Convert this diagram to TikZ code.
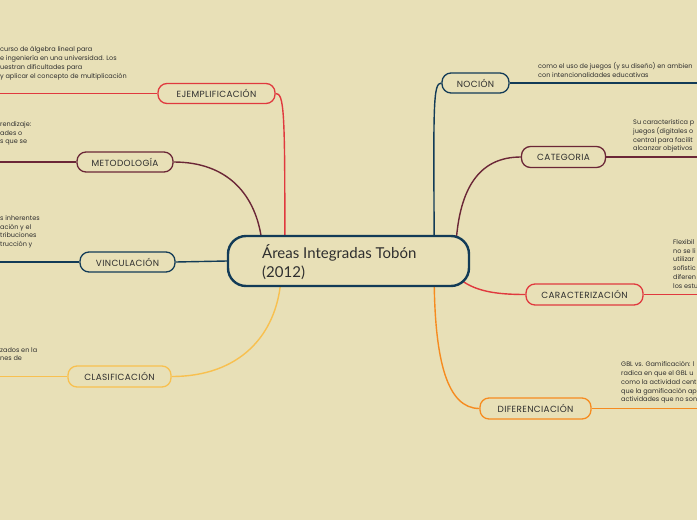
\documentclass[tikz,border=0pt]{standalone}
\usepackage{fontspec}
\setmainfont{Poppins}
\newfontfamily\labfont[LetterSpace=4]{Poppins}
\newfontfamily\centfont{Lato}
\definecolor{bg}{HTML}{E8E0B7}
\definecolor{txt}{HTML}{2E2E2E}
\definecolor{cred}{HTML}{E0393E}
\definecolor{cmar}{HTML}{6B2737}
\definecolor{cnavy}{HTML}{123B57}
\definecolor{cyel}{HTML}{F8C04F}
\definecolor{cora}{HTML}{F68B1F}
\pgfdeclarelayer{back}
\pgfsetlayers{back,main}
\begin{document}
\begin{tikzpicture}[x=1pt,y=-1pt,
  every node/.style={inner sep=0pt},
  branch/.style={draw=#1, line width=1.3pt, rounded corners=9pt, fill=bg,
    text=txt, font=\labfont\fontsize{8.9}{9}\selectfont, minimum height=20pt},
  conn/.style={draw=#1, line width=1.4pt},
  body/.style={font=\fontsize{6.5}{8.9}\selectfont, text=txt, align=left, anchor=north west}]
\useasboundingbox (0,0) rectangle (697,520);
\clip (0,0) rectangle (697,520);

% centre node
\node[draw=cnavy, line width=2.4pt, rounded corners=18pt, fill=bg,
  minimum width=241pt, minimum height=50pt] (c) at (348.5,261) {};
\node[anchor=west, align=left, font=\centfont\fontsize{15}{19}\selectfont, text=txt]
  (ctext) at (262,262) {Áreas Integradas Tobón\\(2012)};

% branch nodes
\node[branch=cred, minimum width=117pt] (ejem) at (216.5,93.5) {EJEMPLIFICACIÓN};
\node[branch=cmar, minimum width=96pt] (meto) at (125,162) {METODOLOGÍA};
\node[branch=cnavy, minimum width=95pt] (vinc) at (127.5,262) {VINCULACIÓN};
\node[branch=cyel, minimum width=103pt, minimum height=21pt] (clas) at (119.5,376.5) {CLASIFICACIÓN};
\node[branch=cnavy, minimum width=67pt] (noc) at (475.5,83) {NOCIÓN};
\node[branch=cmar, minimum width=84pt, minimum height=21pt] (cat) at (563.5,157) {CATEGORIA};
\node[branch=cred, minimum width=117pt, minimum height=21pt] (carac) at (584.5,294.5) {CARACTERIZACIÓN};
\node[branch=cora, minimum width=111pt, minimum height=21pt] (dif) at (535.5,408.5) {DIFERENCIACIÓN};

% free ends of the underlines
\coordinate (ejemL) at (0,93.5);
\coordinate (metoL) at (0,162);
\coordinate (vincL) at (0,262);
\coordinate (clasL) at (0,376.5);
\coordinate (nocR) at (697,83);
\coordinate (catR) at (697,157);
\coordinate (caracR) at (697,294.5);
\coordinate (difR) at (697,408.5);

\begin{pgfonlayer}{back}
\fill[bg] (0,0) rectangle (697,520);
\draw[conn=cred] (ejem.west) -- (ejemL);
\draw[conn=cmar] (meto.west) -- (metoL);
\draw[conn=cnavy] (vinc.west) -- (vincL);
\draw[conn=cyel] (clas.west) -- (clasL);
\draw[conn=cnavy] (noc.east) -- (nocR);
\draw[conn=cmar] (cat.east) -- (catR);
\draw[conn=cred] (carac.east) -- (caracR);
\draw[conn=cora] (dif.east) -- (difR);
% connectors to the centre
\draw[conn=cred] (ejem.east) .. controls (284,93.5) and (285,110) .. ([xshift=58pt,yshift=-6pt]c.north west);
\draw[conn=cmar] (meto.east) .. controls (228,162) and (256,195) .. ([xshift=35pt,yshift=-6pt]c.north west);
\draw[conn=cnavy] (vinc.east) -- (c.west);
\draw[conn=cyel] (clas.east) .. controls (240,376.5) and (276,335) .. ([xshift=54pt,yshift=6pt]c.south west);
\draw[conn=cnavy] (noc.west) .. controls (433,83) and (433.5,105) .. ([xshift=-36pt,yshift=-6pt]c.north east);
\draw[conn=cmar] (cat.west) .. controls (478,157) and (460,190) .. ([xshift=-14pt,yshift=-6pt]c.north east);
\draw[conn=cred] (carac.west) .. controls (495,294.5) and (476,291) .. ([xshift=-9pt,yshift=7pt]c.south east);
\draw[conn=cora] (dif.west) .. controls (447,408.5) and (435,360) .. ([xshift=-36pt,yshift=6pt]c.south east);
\end{pgfonlayer}

% texts
\node[body] (t1) at (0,46.5) {curso de álgebra lineal para\\e ingeniería en una universidad. Los\\uestran dificultades para\\y aplicar el concepto de multiplicación};
\node[body] (t2) at (0,121) {rendizaje:\\ades o\\s que se};
\node[body] (t3) at (0,215) {s inherentes\\ación y el\\tribuciones\\trucción y};
\node[body] (t4) at (0,347) {zados en la\\nes de};
\node[body] (t5) at (538,62.5) {como el uso de juegos (y su diseño) en ambien\\con intencionalidades educativas};
\node[body] (t6) at (633,119) {Su característica p\\juegos (digitales o\\central para facilit\\alcanzar objetivos};
\node[body] (t7) at (673,239) {Flexibil\\no se li\\utilizar\\sofistic\\diferen\\los estu};
\node[body] (t8) at (621,361) {GBL vs. Gamificación: l\\radica en que el GBL u\\como la actividad cent\\que la gamificación ap\\actividades que no son};
\end{tikzpicture}
\end{document}
